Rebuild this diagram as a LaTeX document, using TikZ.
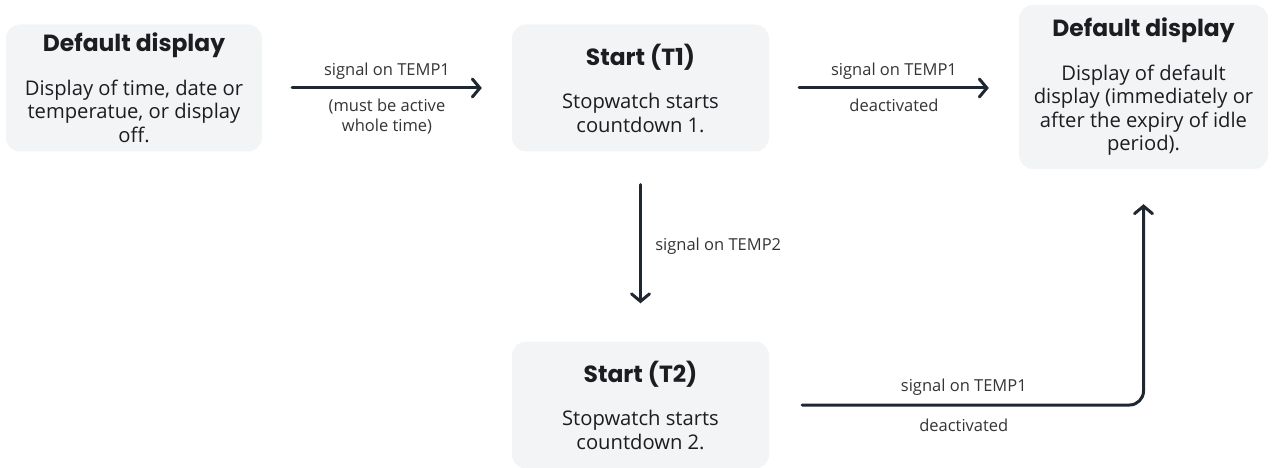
\documentclass[tikz,border=0pt]{standalone}
\usepackage{fontspec}
\setmainfont{Open Sans}
\newfontfamily\titlefont{Poppins}
\usetikzlibrary{arrows.meta,positioning}
\definecolor{boxgray}{HTML}{F3F4F6}
\definecolor{ink}{HTML}{1C1D20}
\definecolor{linecol}{HTML}{1F2731}
\tikzset{
  state/.style={fill=boxgray, rounded corners=14pt, align=center, text=ink,
    font=\fontsize{20.2}{23.5}\selectfont, inner sep=0pt,
    minimum width=256pt, minimum height=127pt},
  trans/.style={draw=linecol, line width=3pt, line cap=round,
    -{Straight Barb[length=7.5pt,width=18pt,line cap=round]},
    shorten <=30pt, shorten >=30pt},
  lbl/.style={font=\fontsize{16.5}{20}\selectfont, text=ink!90, align=center}
}
\newcommand{\statehead}[1]{{\titlefont\bfseries\fontsize{23.4}{26}\selectfont #1}\\[20pt]}
\begin{document}
\begin{tikzpicture}[x=1pt, y=-1pt]
	\useasboundingbox (0,0) rectangle (1274,468);
	% states
	\node[state] (d1) at (134,88) {\statehead{Default display}Display of time, date or\\temperatue, or display\\off.};
	\node[state, minimum width=257pt] (s1) at (640.5,88) {\statehead{Start (T1)}Stopwatch starts\\countdown 1.};
	\node[state, minimum width=249pt, minimum height=164pt] (d2) at (1143.5,87) {\statehead{Default display}Display of default\\display (immediately or\\after the expiry of idle\\period).};
	\node[state, minimum width=257pt] (s2) at (640.5,405) {\statehead{Start (T2)}Stopwatch starts\\countdown 2.};
	% transitions
	\draw[trans] (d1.east) -- (s1.west)
		node[lbl, midway, above=4pt] {signal on TEMP1}
		node[lbl, midway, below=6pt] {(must be active\\whole time)};
	\draw[trans] (s1.east) -- (s1.east -| d2.west)
		node[lbl, midway, above=4pt] {signal on TEMP1}
		node[lbl, midway, below=6pt] {deactivated};
	\draw[trans, shorten <=33pt, shorten >=38pt] (s1.south) -- (s2.north)
		node[lbl, midway, right=10pt] {signal on TEMP2};
	\draw[trans, rounded corners=14pt, shorten <=33pt, shorten >=35pt] (s2.east) -| (d2.south)
		node[lbl, pos=0.26, above=5pt] {signal on TEMP1}
		node[lbl, pos=0.26, below=9pt] {deactivated};
\end{tikzpicture}
\end{document}
